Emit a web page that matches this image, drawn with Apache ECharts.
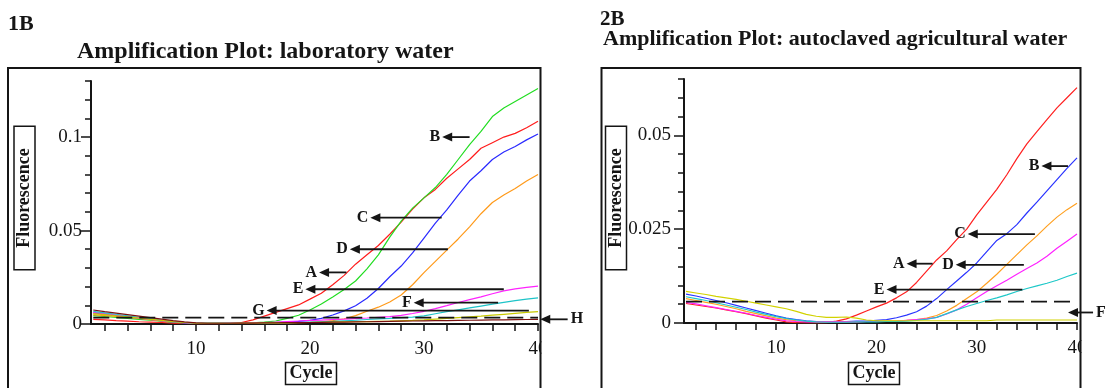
<!DOCTYPE html>
<html>
<head>
<meta charset="utf-8">
<script src="https://cdn.jsdelivr.net/npm/echarts@6/dist/echarts.min.js"></script>
<style>
  html, body { margin: 0; padding: 0; background: #fff; }
  #chart { width: 1106px; height: 388px; }
</style>
</head>
<body>
<div id="chart"></div>
<script>
// qPCR amplification curves, two panels (1B laboratory water, 2B autoclaved agricultural water)
const CYCLES = [1, 2, 3, 4, 5, 6, 7, 8, 9, 10, 11, 12, 13, 14, 15, 16, 17, 18, 19, 20,
  21, 22, 23, 24, 25, 26, 27, 28, 29, 30, 31, 32, 33, 34, 35, 36, 37, 38, 39, 40]

// --- panel 1B: laboratory water ---
const LAB_NAMES = ['A', 'B', 'C', 'D', 'E', 'F', 'G', 'H']
const LAB_A = [0.0025, 0.0022, 0.0018, 0.0015, 0.0012, 0.0010, 0.0008, 0.0005, 0.0003, 0.0002,
  0.0002, 0.0002, 0.0004, 0.0008, 0.0022, 0.0042, 0.0062, 0.0082, 0.0102, 0.0133,
  0.0165, 0.0210, 0.0260, 0.0320, 0.0370, 0.0420, 0.0480, 0.0545, 0.0615, 0.0675,
  0.0720, 0.0780, 0.0830, 0.0880, 0.0940, 0.0970, 0.1000, 0.1020, 0.1050, 0.1085]
const LAB_B = [0.0045, 0.0040, 0.0035, 0.0030, 0.0025, 0.0020, 0.0015, 0.0010, 0.0006, 0.0004,
  0.0005, 0.0005, 0.0005, 0.0005, 0.0006, 0.0010, 0.0016, 0.0030, 0.0047, 0.0075,
  0.0107, 0.0145, 0.0185, 0.0230, 0.0295, 0.0370, 0.0465, 0.0550, 0.0620, 0.0675,
  0.0730, 0.0800, 0.0880, 0.0960, 0.1030, 0.1110, 0.1155, 0.1190, 0.1225, 0.1260]
const LAB_C = [0.0060, 0.0052, 0.0045, 0.0038, 0.0030, 0.0024, 0.0017, 0.0011, 0.0006, 0.0003,
  0.0003, 0.0003, 0.0004, 0.0004, 0.0005, 0.0006, 0.0008, 0.0010, 0.0014, 0.0019,
  0.0030, 0.0048, 0.0070, 0.0098, 0.0138, 0.0190, 0.0253, 0.0310, 0.0380, 0.0460,
  0.0540, 0.0610, 0.0690, 0.0765, 0.0820, 0.0880, 0.0920, 0.0950, 0.0985, 0.1016]
const LAB_D = [0.0050, 0.0045, 0.0040, 0.0035, 0.0030, 0.0023, 0.0017, 0.0012, 0.0008, 0.0005,
  0.0004, 0.0004, 0.0004, 0.0004, 0.0004, 0.0004, 0.0005, 0.0006, 0.0007, 0.0009,
  0.0012, 0.0018, 0.0028, 0.0045, 0.0068, 0.0090, 0.0118, 0.0155, 0.0210, 0.0275,
  0.0335, 0.0395, 0.0455, 0.0520, 0.0590, 0.0650, 0.0690, 0.0725, 0.0765, 0.0800]
const LAB_E = [0.0062, 0.0055, 0.0048, 0.0040, 0.0032, 0.0025, 0.0018, 0.0012, 0.0007, 0.0004,
  0.0004, 0.0004, 0.0005, 0.0005, 0.0006, 0.0008, 0.0010, 0.0013, 0.0016, 0.0019,
  0.0021, 0.0024, 0.0026, 0.0029, 0.0032, 0.0036, 0.0039, 0.0046, 0.0056, 0.0068,
  0.0082, 0.0098, 0.0115, 0.0130, 0.0145, 0.0162, 0.0177, 0.0188, 0.0196, 0.0203]
const LAB_F = [0.0068, 0.0060, 0.0052, 0.0044, 0.0036, 0.0028, 0.0020, 0.0013, 0.0008, 0.0004,
  0.0003, 0.0003, 0.0003, 0.0004, 0.0004, 0.0005, 0.0006, 0.0007, 0.0008, 0.0010,
  0.0012, 0.0014, 0.0017, 0.0020, 0.0024, 0.0027, 0.0030, 0.0034, 0.0037, 0.0043,
  0.0055, 0.0066, 0.0076, 0.0086, 0.0096, 0.0106, 0.0116, 0.0125, 0.0133, 0.0140]
const LAB_G = [0.0055, 0.0050, 0.0044, 0.0038, 0.0032, 0.0025, 0.0019, 0.0013, 0.0008, 0.0005,
  0.0004, 0.0004, 0.0004, 0.0005, 0.0005, 0.0006, 0.0006, 0.0007, 0.0008, 0.0008,
  0.0009, 0.0010, 0.0011, 0.0012, 0.0013, 0.0014, 0.0015, 0.0017, 0.0019, 0.0022,
  0.0026, 0.0030, 0.0034, 0.0038, 0.0042, 0.0047, 0.0052, 0.0057, 0.0062, 0.0066]
const LAB_H = [0.0075, 0.0066, 0.0058, 0.0050, 0.0042, 0.0034, 0.0026, 0.0018, 0.0011, 0.0006,
  0.0004, 0.0004, 0.0004, 0.0005, 0.0005, 0.0006, 0.0006, 0.0007, 0.0007, 0.0008,
  0.0009, 0.0010, 0.0010, 0.0011, 0.0012, 0.0013, 0.0014, 0.0015, 0.0016, 0.0017,
  0.0018, 0.0018, 0.0019, 0.0020, 0.0021, 0.0022, 0.0022, 0.0023, 0.0024, 0.0025]
const LAB_THRESHOLD = 0.0034
const LAB_X_TICKS = [2, 4, 6, 8, 10, 12, 14, 16, 18, 20, 22, 24, 26, 28, 30, 32, 34, 36, 38, 40]
const LAB_X_LABELS = [10, 20, 30, 40]
const LAB_Y_MINOR = [0, 0.01, 0.02, 0.03, 0.04, 0.05, 0.06, 0.07, 0.08, 0.09, 0.1, 0.11, 0.12, 0.13]
const LAB_Y_LABELS = [0, 0.05, 0.1]
// arrow annotations: [letter, tip cycle, tail cycle, value, side of letter]
const LAB_ARROWS = [
  ['A', 20.8, 23.2, 0.0276, 'L'],
  ['B', 31.6, 34.0, 0.1000, 'L'],
  ['C', 25.3, 31.55, 0.0569, 'L'],
  ['D', 23.5, 32.1, 0.0400, 'L'],
  ['E', 19.6, 37.0, 0.0186, 'L'],
  ['F', 29.1, 36.5, 0.0114, 'L'],
  ['G', 16.2, 39.2, 0.0072, 'L'],
  ['H', 40.2, 42.6, 0.0025, 'R'],
]

// --- panel 2B: autoclaved agricultural water ---
const AGR_NAMES = ['A', 'B', 'C', 'D', 'E', 'F']
const AGR_A = [0.0052, 0.0048, 0.0044, 0.0040, 0.0035, 0.0030, 0.0025, 0.0019, 0.0013, 0.0008,
  0.0003, 0.0001, 0.0000, 0.0000, 0.0001, 0.0005, 0.0011, 0.0021, 0.0032, 0.0043,
  0.0053, 0.0067, 0.0083, 0.0108, 0.0138, 0.0168, 0.0192, 0.0222, 0.0250, 0.0288,
  0.0322, 0.0356, 0.0395, 0.0438, 0.0477, 0.0510, 0.0542, 0.0573, 0.0600, 0.0627]
const AGR_B = [0.0077, 0.0072, 0.0066, 0.0060, 0.0054, 0.0047, 0.0040, 0.0033, 0.0026, 0.0019,
  0.0013, 0.0009, 0.0006, 0.0004, 0.0004, 0.0004, 0.0004, 0.0005, 0.0005, 0.0007,
  0.0009, 0.0014, 0.0021, 0.0030, 0.0045, 0.0065, 0.0089, 0.0112, 0.0135, 0.0160,
  0.0190, 0.0220, 0.0238, 0.0262, 0.0293, 0.0322, 0.0352, 0.0382, 0.0412, 0.0440]
const AGR_C = [0.0065, 0.0060, 0.0055, 0.0050, 0.0044, 0.0038, 0.0031, 0.0025, 0.0019, 0.0013,
  0.0009, 0.0006, 0.0004, 0.0003, 0.0003, 0.0003, 0.0003, 0.0003, 0.0004, 0.0004,
  0.0005, 0.0006, 0.0007, 0.0009, 0.0013, 0.0020, 0.0032, 0.0047, 0.0065, 0.0083,
  0.0106, 0.0130, 0.0156, 0.0182, 0.0208, 0.0232, 0.0258, 0.0282, 0.0302, 0.0319]
const AGR_D = [0.0055, 0.0051, 0.0046, 0.0041, 0.0036, 0.0031, 0.0026, 0.0020, 0.0015, 0.0010,
  0.0006, 0.0004, 0.0003, 0.0003, 0.0003, 0.0003, 0.0003, 0.0003, 0.0004, 0.0004,
  0.0004, 0.0005, 0.0007, 0.0009, 0.0011, 0.0015, 0.0024, 0.0035, 0.0050, 0.0067,
  0.0084, 0.0099, 0.0114, 0.0130, 0.0145, 0.0160, 0.0178, 0.0199, 0.0218, 0.0237]
const AGR_E = [0.0070, 0.0065, 0.0060, 0.0054, 0.0048, 0.0042, 0.0036, 0.0029, 0.0023, 0.0017,
  0.0012, 0.0008, 0.0005, 0.0003, 0.0002, 0.0002, 0.0002, 0.0003, 0.0003, 0.0003,
  0.0004, 0.0004, 0.0005, 0.0007, 0.0010, 0.0015, 0.0025, 0.0035, 0.0044, 0.0052,
  0.0060, 0.0067, 0.0075, 0.0084, 0.0092, 0.0099, 0.0106, 0.0114, 0.0124, 0.0133]
const AGR_F = [0.0084, 0.0080, 0.0076, 0.0071, 0.0067, 0.0063, 0.0058, 0.0053, 0.0048, 0.0043,
  0.0038, 0.0031, 0.0023, 0.0018, 0.0015, 0.0015, 0.0016, 0.0013, 0.0008, 0.0006,
  0.0006, 0.0006, 0.0006, 0.0006, 0.0006, 0.0006, 0.0006, 0.0006, 0.0006, 0.0006,
  0.0006, 0.0008, 0.0008, 0.0008, 0.0008, 0.0008, 0.0008, 0.0008, 0.0008, 0.0008]
const AGR_THRESHOLD = 0.0057
const AGR_X_TICKS = [2, 4, 6, 8, 10, 12, 14, 16, 18, 20, 22, 24, 26, 28, 30, 32, 34, 36, 38, 40]
const AGR_X_LABELS = [10, 20, 30, 40]
const AGR_Y_MINOR = [0, 0.005, 0.01, 0.015, 0.02, 0.025, 0.03, 0.035, 0.04, 0.045, 0.05, 0.055, 0.06, 0.065]
const AGR_Y_LABELS = [0, 0.025, 0.05]
const AGR_ARROWS = [
  ['A', 23.0, 25.6, 0.0158, 'L'],
  ['B', 36.45, 39.1, 0.0418, 'L'],
  ['C', 29.1, 35.8, 0.0237, 'L'],
  ['D', 27.9, 34.7, 0.0155, 'L'],
  ['E', 21.0, 34.55, 0.0089, 'L'],
  ['F', 39.1, 41.6, 0.0028, 'R'],
]

const LAB_COLORS = ['#ff1c1c', '#22dd22', '#2a2aff', '#ff9a1a', '#ff22ff', '#1ec4c8', '#c8c800', '#7a1010']
const AGR_COLORS = ['#ff2020', '#2a34ff', '#ffa020', '#ff22ff', '#1ec8c8', '#d2d200']

const SERIF = "'Liberation Serif', 'Times New Roman', serif"
const INK = '#151515'

function curveSeries(names, valueSets, colors, axisIndex) {
  return names.map((name, k) => ({
    name: `${axisIndex}-${name}`,
    type: 'line',
    xAxisIndex: axisIndex,
    yAxisIndex: axisIndex,
    data: CYCLES.map((c, i) => [c, valueSets[k][i]]),
    symbol: 'none',
    lineStyle: { width: 1.2, color: colors[k] },
    z: 2,
  }))
}

function thresholdSeries(value, axisIndex) {
  return {
    name: `${axisIndex}-threshold`,
    type: 'line',
    xAxisIndex: axisIndex,
    yAxisIndex: axisIndex,
    data: [[CYCLES[0], value], [CYCLES[CYCLES.length - 1], value]],
    symbol: 'none',
    lineStyle: { width: 1.6, color: INK, type: [16, 7] },
    z: 3,
  }
}

function xAxisFor(gridIndex, ticks, labels) {
  return {
    gridIndex,
    type: 'value',
    min: 0.8,
    max: 40,
    axisLine: { onZero: false, lineStyle: { color: INK, width: 2 } },
    axisTick: { customValues: ticks, length: 7, lineStyle: { color: INK, width: 1.5 } },
    axisLabel: { customValues: labels, margin: 16, fontSize: 19, fontFamily: SERIF, color: INK },
    splitLine: { show: false },
  }
}

function yAxisFor(gridIndex, max, labels, margin) {
  return {
    gridIndex,
    type: 'value',
    min: 0,
    max,
    axisLine: { show: true, onZero: false, lineStyle: { color: INK, width: 2 } },
    axisTick: { show: true, customValues: labels, length: 10, lineStyle: { color: INK, width: 1.5 } },
    axisLabel: { customValues: labels, margin, fontSize: 19, fontFamily: SERIF, color: INK },
    splitLine: { show: false },
  }
}

// second axis per grid only carries the short minor ticks
function minorYAxis(gridIndex, max, ticks) {
  return {
    gridIndex,
    type: 'value',
    position: 'left',
    min: 0,
    max,
    axisLine: { show: false },
    axisTick: { show: true, customValues: ticks, length: 6, lineStyle: { color: INK, width: 1.5 } },
    axisLabel: { show: false },
    splitLine: { show: false },
  }
}

const chart = echarts.init(document.getElementById('chart'), null, { renderer: 'canvas' })

chart.setOption({
  animation: false,
  backgroundColor: '#fff',
  grid: [
    { left: 91, top: 81, width: 447, height: 243 },
    { left: 684, top: 79, width: 393, height: 244 },
  ],
  xAxis: [
    xAxisFor(0, LAB_X_TICKS, LAB_X_LABELS),
    xAxisFor(1, AGR_X_TICKS, AGR_X_LABELS),
  ],
  yAxis: [
    yAxisFor(0, 0.13, LAB_Y_LABELS, 9),
    yAxisFor(1, 0.065, AGR_Y_LABELS, 13),
    minorYAxis(0, 0.13, LAB_Y_MINOR),
    minorYAxis(1, 0.065, AGR_Y_MINOR),
  ],
  series: [
    ...curveSeries(LAB_NAMES, [LAB_A, LAB_B, LAB_C, LAB_D, LAB_E, LAB_F, LAB_G, LAB_H], LAB_COLORS, 0),
    thresholdSeries(LAB_THRESHOLD, 0),
    ...curveSeries(AGR_NAMES, [AGR_A, AGR_B, AGR_C, AGR_D, AGR_E, AGR_F], AGR_COLORS, 1),
    thresholdSeries(AGR_THRESHOLD, 1),
  ],
})

// annotations: arrows placed through the axes' own scales
function arrowGraphics(arrows, gridIndex) {
  const out = []
  arrows.forEach(([letter, tipC, tailC, v, side]) => {
    const [tx, y] = chart.convertToPixel({ gridIndex }, [tipC, v])
    const [ex] = chart.convertToPixel({ gridIndex }, [tailC, v])
    out.push({
      type: 'line', z: 20,
      shape: { x1: tx + 8, y1: y, x2: ex, y2: y },
      style: { stroke: INK, lineWidth: 1.8 },
    })
    out.push({
      type: 'polygon', z: 20,
      shape: { points: [[tx, y], [tx + 10, y - 4.5], [tx + 10, y + 4.5]] },
      style: { fill: INK },
    })
    out.push({
      type: 'text', z: 20,
      x: side === 'L' ? tx - 2 : ex + 3,
      y,
      style: {
        text: letter, fill: INK, font: `bold 16px ${SERIF}`,
        align: side === 'L' ? 'right' : 'left', verticalAlign: 'middle',
      },
    })
  })
  return out
}

function boxedText(text, x, y, rotation, padding) {
  return {
    type: 'text', z: 20, x, y, rotation,
    style: {
      text, fill: INK, font: `bold 18px ${SERIF}`, lineHeight: 18,
      align: 'center', verticalAlign: 'middle',
      padding, borderColor: INK, borderWidth: 1.5,
    },
  }
}

chart.setOption({
  graphic: [
    // frames
    { type: 'rect', z: 15, shape: { x: 8, y: 68, width: 532.5, height: 340 }, style: { fill: 'none', stroke: INK, lineWidth: 2 } },
    { type: 'rect', z: 15, shape: { x: 601.5, y: 68, width: 479, height: 340 }, style: { fill: 'none', stroke: INK, lineWidth: 2 } },
    // the frame hides the right half of the last tick label
    { type: 'rect', z: 14, shape: { x: 541.5, y: 333, width: 12, height: 30 }, style: { fill: '#fff' } },
    { type: 'rect', z: 14, shape: { x: 1081.5, y: 333, width: 12, height: 30 }, style: { fill: '#fff' } },
    // headings
    { type: 'text', z: 20, x: 8, y: 24.5, style: { text: '1B', fill: INK, font: `bold 22px ${SERIF}`, verticalAlign: 'middle' } },
    { type: 'text', z: 20, x: 77, y: 52, style: { text: 'Amplification Plot: laboratory water', fill: INK, font: `bold 24px ${SERIF}`, verticalAlign: 'middle' } },
    { type: 'text', z: 20, x: 600, y: 20, style: { text: '2B', fill: INK, font: `bold 21px ${SERIF}`, verticalAlign: 'middle' } },
    { type: 'text', z: 20, x: 603, y: 39.5, style: { text: 'Amplification Plot: autoclaved agricultural water', fill: INK, font: `bold 22px ${SERIF}`, verticalAlign: 'middle' } },
    // axis titles
    boxedText('Fluorescence', 24.5, 198, Math.PI / 2, [1.5, 22]),
    boxedText('Fluorescence', 616, 198, Math.PI / 2, [1.5, 22]),
    boxedText('Cycle', 311, 373.5, 0, [2, 4]),
    boxedText('Cycle', 874, 373.5, 0, [2, 4]),
    ...arrowGraphics(LAB_ARROWS, 0),
    ...arrowGraphics(AGR_ARROWS, 1),
  ],
})
</script>
</body>
</html>
